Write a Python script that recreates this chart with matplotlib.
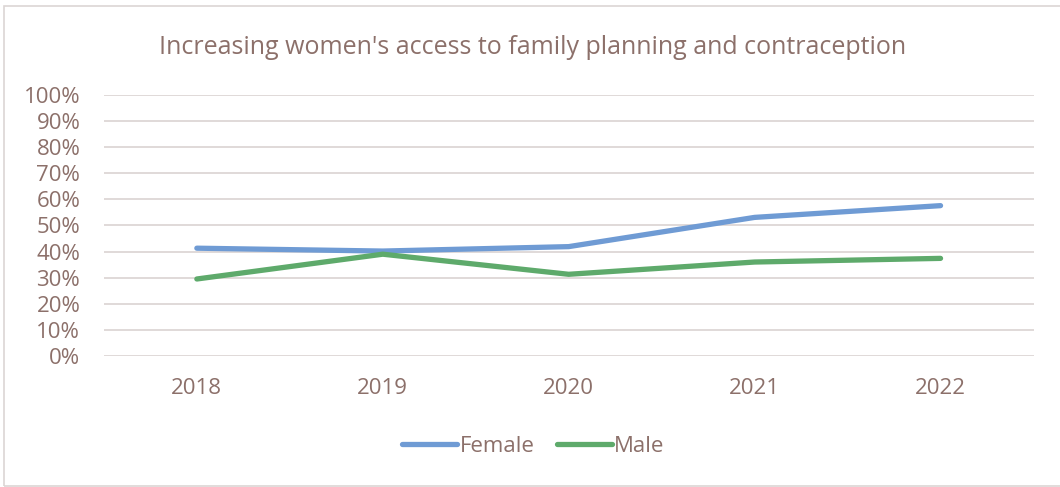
import matplotlib.pyplot as plt
from matplotlib.patches import Rectangle
from matplotlib.ticker import PercentFormatter

years = ['2018', '2019', '2020', '2021', '2022']
female = [41.3, 40.2, 41.9, 53.1, 57.6]
male = [29.5, 39.0, 31.3, 36.0, 37.4]

text_color = '#8C706A'
grid_color = '#DDD7D5'

plt.rcParams['font.family'] = ['Open Sans', 'DejaVu Sans']

fig = plt.figure(figsize=(10.6, 4.87), dpi=100)
ax = fig.add_axes([0.098, 0.269, 0.877, 0.536])

x = range(len(years))
ax.plot(x, female, color='#6F9BD4', lw=3.8, solid_capstyle='round', label='Female')
ax.plot(x, male, color='#5EAA6B', lw=3.8, solid_capstyle='round', label='Male')

ax.set_xlim(-0.5, len(years) - 0.5)
ax.set_ylim(0, 100)
ax.set_yticks(range(0, 101, 10))
ax.yaxis.set_major_formatter(PercentFormatter(decimals=0))
ax.set_xticks(list(x))
ax.set_xticklabels(years)
ax.grid(axis='y', color=grid_color, lw=1.3)
ax.set_axisbelow(True)
for s in ax.spines.values():
    s.set_visible(False)
ax.tick_params(length=0, labelsize=16, labelcolor=text_color)
ax.tick_params(axis='x', pad=16)
ax.tick_params(axis='y', pad=17)

fig.text(0.502, 0.903, "Increasing women's access to family planning and contraception",
         ha='center', va='center', fontsize=18, color=text_color)

leg = fig.legend(loc='center', bbox_to_anchor=(0.503, 0.084), ncol=2, frameon=False,
                 fontsize=16, handlelength=2.5, handletextpad=0.1, columnspacing=1.0)
for t in leg.get_texts():
    t.set_color(text_color)

# outer chart frame
fig.patches.append(Rectangle((4 / 1060, 1 / 487), 1.1, 480 / 487, transform=fig.transFigure,
                             fill=False, ec='#DCD6D4', lw=1.2))

fig.savefig('out.png', dpi=100)
